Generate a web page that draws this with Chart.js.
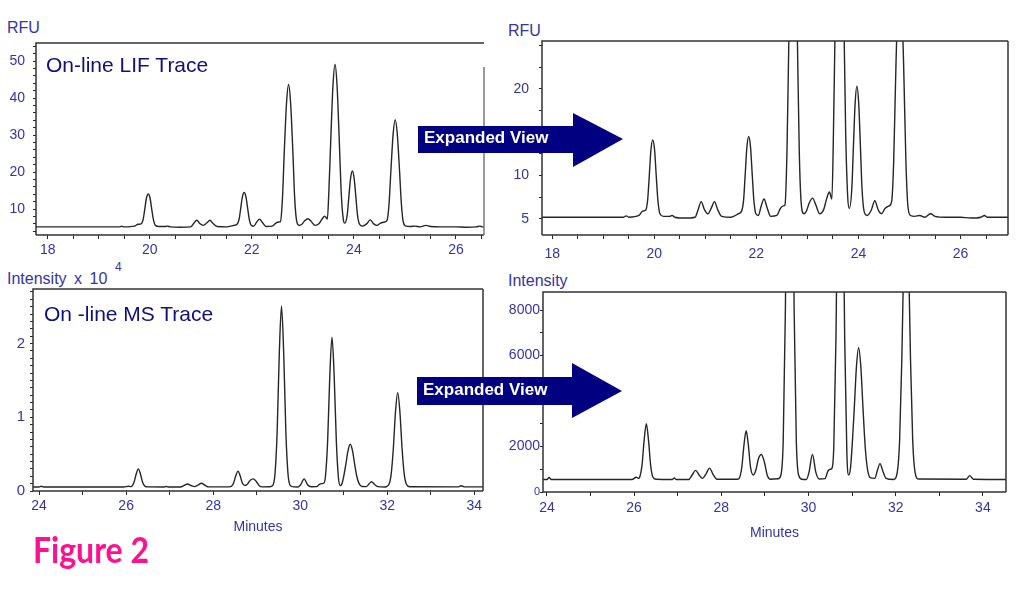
<!DOCTYPE html>
<html>
<head>
<meta charset="utf-8">
<title>Figure 2</title>
<script src="https://cdn.jsdelivr.net/npm/chart.js@4.4.1/dist/chart.umd.min.js"></script>
<style>
    html, body { margin: 0; padding: 0; background: #fff; }
    body { position: relative; width: 1024px; height: 593px; overflow: hidden; font-family: "Liberation Sans", Arial, sans-serif; }
    canvas { position: absolute; }
    .lbl { position: absolute; white-space: nowrap; line-height: 1; color: #3434a4; }
    .trace-name { position: absolute; white-space: nowrap; line-height: 1; color: #0f0f7e; font-size: 21px; }
    .fig { position: absolute; left: 33px; top: 534px; font-family: Lato, "Open Sans", sans-serif; font-weight: 700; font-size: 32px; line-height: 1; color: #ff1090; transform: scaleY(1.12); }
    #arrows { position: absolute; left: 0; top: 0; }
</style>
</head>
<body>

<div class="lbl" style="left:7px; top:20px; font-size:16px;">RFU</div>
<div class="lbl" style="left:508px; top:23px; font-size:16px;">RFU</div>
<div class="lbl" style="left:7px; top:271px; font-size:16px; word-spacing:3px;">Intensity x 10</div>
<div class="lbl" style="left:115px; top:261px; font-size:12px;">4</div>
<div class="lbl" style="left:508px; top:273px; font-size:16px;">Intensity</div>

<canvas id="lifChart" width="486" height="219" style="left:2px; top:40px;"></canvas>
<canvas id="lifZoomChart" width="504" height="225" style="left:508px; top:38px;"></canvas>
<canvas id="msChart" width="486" height="252" style="left:1px; top:286px;"></canvas>
<canvas id="msZoomChart" width="501" height="255" style="left:509px; top:289px;"></canvas>

<div class="trace-name" style="left:46px; top:54px;">On-line LIF Trace</div>
<div class="trace-name" style="left:44px; top:303px;">On -line MS Trace</div>
<div class="fig">Figure 2</div>

<svg id="arrows" width="1024" height="593">
    <polygon points="418,126 573,126 573,113 623,139 573,167 573,153 418,153" fill="#000080"/>
    <text x="424" y="143" fill="#fff" font-family="Liberation Sans, Arial, sans-serif" font-weight="bold" font-size="17">Expanded View</text>
    <polygon points="417,377 572,377 572,363 622,391 572,418 572,405 417,405" fill="#000080"/>
    <text x="423" y="395" fill="#fff" font-family="Liberation Sans, Arial, sans-serif" font-weight="bold" font-size="17">Expanded View</text>
</svg>

<script>
// LIF trace (minutes / RFU)
const lifMinutes = [17.77, 19.40, 19.45, 19.50, 19.70, 19.77, 19.83, 19.87, 19.90, 19.935,
    19.97, 20.005, 20.04, 20.07, 20.11, 20.18, 20.30, 20.35, 20.40, 20.60,
    20.80, 20.86, 20.92, 20.98, 21.05, 21.12, 21.18, 21.24, 21.32, 21.50,
    21.65, 21.71, 21.75, 21.78, 21.815, 21.85, 21.885, 21.92, 21.95, 21.99,
    22.04, 22.09, 22.15, 22.21, 22.28, 22.40, 22.47, 22.53, 22.56, 22.60,
    22.635, 22.68, 22.72, 22.76, 22.805, 22.84, 22.88, 22.93, 22.98, 23.04,
    23.10, 23.16, 23.24, 23.32, 23.38, 23.43, 23.48, 23.51, 23.545, 23.59,
    23.63, 23.67, 23.715, 23.75, 23.79, 23.82, 23.87, 23.90, 23.935, 23.97,
    24.005, 24.04, 24.07, 24.11, 24.17, 24.25, 24.32, 24.39, 24.45, 24.52,
    24.60, 24.65, 24.69, 24.725, 24.77, 24.81, 24.85, 24.895, 24.93, 24.97,
    25.02, 25.10, 25.20, 25.30, 25.41, 25.50, 25.70, 26.00, 26.20, 26.40,
    26.47, 26.52, 26.93];
const lifRfu = [5.2, 5.2, 5.35, 5.2, 5.4, 5.9, 6.0, 7.2, 9.8, 13.0,
    14.1, 13.0, 9.8, 7.2, 5.6, 5.3, 5.3, 5.4, 5.2, 5.1,
    5.2, 6.1, 7.0, 6.1, 5.6, 6.3, 7.0, 6.1, 5.3, 5.2,
    5.6, 5.9, 7.2, 10.0, 13.3, 14.5, 13.3, 10.0, 7.2, 5.6,
    5.4, 6.4, 7.3, 6.3, 5.3, 5.4, 6.2, 6.5, 6.6, 12.9,
    25.2, 38.7, 43.7, 38.7, 25.2, 12.9, 6.7, 5.6, 5.9, 6.9,
    7.4, 6.7, 5.6, 6.1, 7.4, 8.1, 7.3, 14.9, 28.0, 43.4,
    49.1, 43.4, 28.0, 14.9, 7.5, 6.2, 8.5, 13.1, 18.3, 20.3,
    18.3, 13.1, 8.5, 5.9, 5.4, 6.0, 7.1, 6.0, 5.6, 6.2,
    6.5, 7.0, 11.6, 20.3, 30.4, 34.2, 30.4, 20.3, 11.6, 6.4,
    5.4, 5.3, 5.4, 5.2, 5.6, 5.3, 5.2, 5.2, 5.1, 5.2,
    5.4, 5.2, 5.2];

// MS trace (minutes / intensity counts)
const msMinutes = [23.86, 24.00, 24.05, 24.10, 25.95, 26.05, 26.10, 26.13, 26.18, 26.23,
    26.28, 26.33, 26.38, 26.43, 26.50, 26.88, 26.92, 26.96, 27.25, 27.33,
    27.41, 27.49, 27.57, 27.65, 27.73, 27.81, 27.90, 28.37, 28.42, 28.47,
    28.52, 28.57, 28.62, 28.67, 28.73, 28.79, 28.85, 28.92, 28.99, 29.06,
    29.13, 29.30, 29.37, 29.42, 29.47, 29.52, 29.57, 29.62, 29.67, 29.72,
    29.77, 29.85, 29.95, 30.01, 30.09, 30.17, 30.25, 30.38, 30.44, 30.50,
    30.54, 30.58, 30.63, 30.68, 30.73, 30.78, 30.83, 30.88, 30.92, 30.96,
    31.00, 31.05, 31.10, 31.15, 31.20, 31.25, 31.30, 31.35, 31.42, 31.52,
    31.58, 31.64, 31.70, 31.78, 31.95, 32.04, 32.09, 32.14, 32.19, 32.24,
    32.29, 32.34, 32.39, 32.44, 32.52, 33.62, 33.70, 33.78, 34.57];
const msIntensity = [550, 550, 640, 550, 550, 650, 600, 660, 1160, 2280,
    3000, 2280, 1160, 660, 560, 550, 620, 550, 550, 750,
    950, 750, 600, 800, 1050, 780, 560, 560, 640, 1090,
    2070, 2700, 2070, 1090, 750, 950, 1450, 1650, 1300, 700,
    560, 580, 770, 2265, 8050, 18780, 25050, 18780, 8050, 2265,
    770, 560, 550, 850, 1650, 850, 570, 590, 900, 1000,
    1050, 2000, 6760, 15650, 20850, 15650, 6760, 1700, 750, 1000,
    2000, 3680, 5520, 6350, 5520, 3680, 2000, 1040, 620, 600,
    950, 1250, 950, 600, 550, 920, 2280, 5800, 10790, 13350,
    10790, 5800, 2280, 920, 570, 560, 720, 560, 550];

// labelled ticks
const lifMinuteLabels = [18, 20, 22, 24, 26];
const lifRfuLabels = [10, 20, 30, 40, 50];
const lifZoomRfuLabels = [5, 10, 15, 20];
const msMinuteLabels = [24, 26, 28, 30, 32, 34];
const msIntensityLabels = [0, 10000, 20000];   // printed as x 10^4
const msZoomIntensityLabels = [0, 2000, 4000, 6000, 8000];

const TICK_BLUE = '#3434a8';
const TRACE = '#262626';
const FONT = '"Liberation Sans", Arial, sans-serif';

function toPoints(xs, ys) {
    return xs.map((x, i) => ({ x: x, y: ys[i] }));
}

// every minor tick between min and max
function stepTicks(min, max, step) {
    const out = [];
    for (let i = Math.ceil(min / step - 1e-9); i * step <= max + 1e-9; i++) {
        out.push(Math.round(i * step * 1000) / 1000);
    }
    return out;
}

function isMajor(list, v) {
    return list.some(m => Math.abs(m - v) < 1e-6);
}

// box around the plot area
const framePlugin = {
    id: 'frame',
    afterDraw(chart, args, opts) {
        const { left, top, right, bottom } = chart.chartArea;
        const ctx = chart.ctx;
        ctx.save();
        ctx.lineWidth = 1.5;
        ctx.strokeStyle = '#333';
        ctx.beginPath();
        ctx.moveTo(left, bottom);
        ctx.lineTo(left, top);
        ctx.lineTo(right, top);
        ctx.moveTo(left, bottom);
        ctx.lineTo(right, bottom);
        ctx.stroke();
        ctx.strokeStyle = opts.rightColor || '#333';
        ctx.beginPath();
        ctx.moveTo(right, top + (opts.rightFrom || 0));
        ctx.lineTo(right, bottom);
        ctx.stroke();
        ctx.restore();
    }
};

function drawTrace(id, p) {
    new Chart(document.getElementById(id), {
        type: 'line',
        data: {
            datasets: [{
                data: toPoints(p.xs, p.ys),
                borderColor: TRACE,
                borderWidth: 1.4,
                pointRadius: 0,
                cubicInterpolationMode: 'monotone',
                fill: false
            }]
        },
        options: {
            responsive: false,
            animation: false,
            events: [],
            layout: { padding: { top: 3, right: 4, left: 0, bottom: 0 } },
            plugins: {
                legend: { display: false },
                tooltip: { enabled: false },
                frame: { rightFrom: p.rightFrom || 0, rightColor: p.rightColor }
            },
            scales: {
                x: {
                    type: 'linear',
                    min: p.xMin,
                    max: p.xMax,
                    afterBuildTicks: s => { s.ticks = stepTicks(p.xMin, p.xMax, p.xStep).map(v => ({ value: v })); },
                    afterFit: s => { s.height = p.xHeight; s.paddingLeft = 0; s.paddingRight = 0; },
                    grid: { drawOnChartArea: false, color: TRACE, tickLength: 4 },
                    border: { display: false },
                    ticks: {
                        autoSkip: false,
                        maxRotation: 0,
                        padding: p.xPad,
                        color: TICK_BLUE,
                        font: { family: FONT, size: 14 },
                        callback: v => isMajor(p.xLabels, v) ? String(v) : ''
                    },
                    title: {
                        display: !!p.xTitle,
                        text: p.xTitle || '',
                        color: TICK_BLUE,
                        font: { family: FONT, size: 14 },
                        padding: { top: 0, bottom: 2 }
                    }
                },
                y: {
                    type: 'linear',
                    min: p.yMin,
                    max: p.yMax,
                    afterBuildTicks: s => { s.ticks = stepTicks(p.yMin, p.yMax, p.yStep).map(v => ({ value: v })); },
                    afterFit: s => { s.width = p.yWidth; s.paddingTop = 0; s.paddingBottom = 0; },
                    grid: { drawOnChartArea: false, color: TRACE, tickLength: 3 },
                    border: { display: false },
                    ticks: {
                        autoSkip: false,
                        padding: p.yPad,
                        color: TICK_BLUE,
                        font: p.yFont || { family: FONT, size: 14 },
                        callback: v => isMajor(p.yLabels, v) ? p.yFormat(v) : ''
                    }
                }
            }
        },
        plugins: [framePlugin]
    });
}

document.addEventListener('DOMContentLoaded', function() {
    drawTrace('lifChart', {
        xs: lifMinutes, ys: lifRfu,
        xMin: 17.77, xMax: 26.55, xStep: 0.5, xLabels: lifMinuteLabels, xHeight: 24, xPad: 3,
        yMin: 3, yMax: 54.9, yStep: 2, yLabels: lifRfuLabels, yWidth: 34, yPad: 8,
        yFormat: v => String(v),
        rightFrom: 24, rightColor: '#777'
    });

    drawTrace('lifZoomChart', {
        xs: lifMinutes, ys: lifRfu,
        xMin: 17.8, xMax: 26.93, xStep: 0.5, xLabels: lifMinuteLabels, xHeight: 28, xPad: 7,
        yMin: 3.15, yMax: 25.5, yStep: 2.5, yLabels: lifZoomRfuLabels, yWidth: 34, yPad: 10,
        yFormat: v => String(v)
    });

    drawTrace('msChart', {
        xs: msMinutes, ys: msIntensity,
        xMin: 23.86, xMax: 34.2, xStep: 1, xLabels: msMinuteLabels, xHeight: 47, xPad: 3,
        xTitle: 'Minutes',
        yMin: 0, yMax: 27400, yStep: 1000, yLabels: msIntensityLabels, yWidth: 32, yPad: 5,
        yFormat: v => String(v / 10000),
        yFont: { family: FONT, size: 15 }
    });

    drawTrace('msZoomChart', {
        xs: msMinutes, ys: msIntensity,
        xMin: 23.91, xMax: 34.53, xStep: 1, xLabels: msMinuteLabels, xHeight: 52, xPad: 4,
        xTitle: 'Minutes',
        yMin: 0, yMax: 8800, yStep: 1000, yLabels: msZoomIntensityLabels, yWidth: 34, yPad: 0,
        yFormat: v => String(v),
        yFont: ctx => ({ family: FONT, size: ctx.tick && ctx.tick.value === 0 ? 11 : 14 })
    });
});
</script>
</body>
</html>
